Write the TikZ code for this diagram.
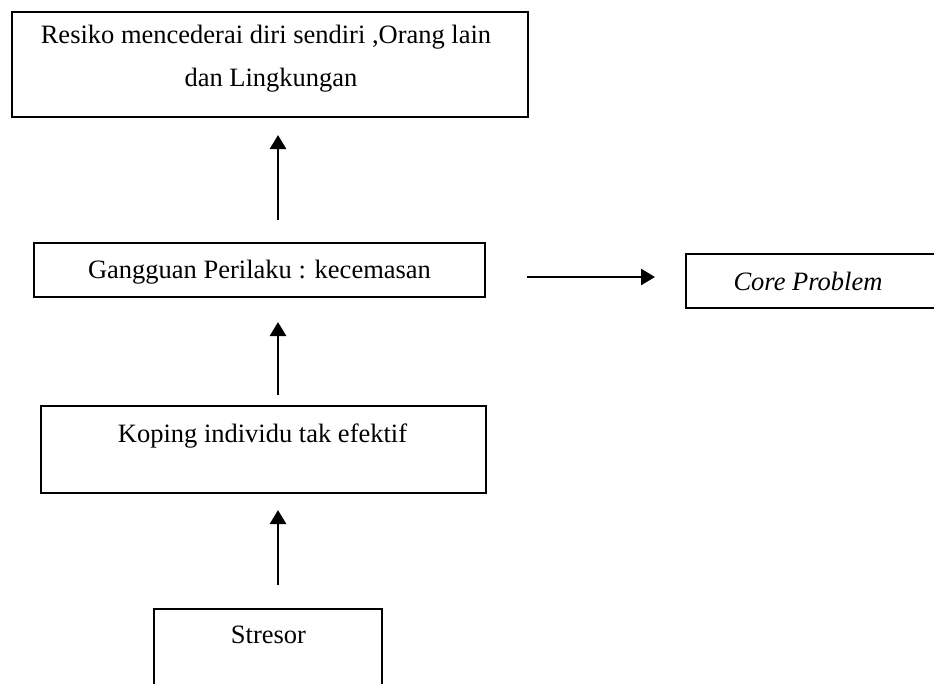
\documentclass[tikz,border=0pt]{standalone}
\usepackage{fontspec}
\setmainfont{Liberation Serif}
\usetikzlibrary{arrows.meta}
\begin{document}
\begin{tikzpicture}[x=1pt,y=-1pt,
  box/.style={draw, line width=1.5pt, rectangle, inner sep=0pt, outer sep=0pt},
  lbl/.style={anchor=base, inner sep=0pt, font=\fontsize{26.5}{43}\selectfont},
  arr/.style={line width=2.6pt, -{Triangle[length=14pt,width=16pt]}}]
\useasboundingbox (0,0) rectangle (934,683);
\clip (0,0) rectangle (934,683);
% boxes
\node[box, minimum width=516pt, minimum height=105pt] (b1) at (270,64.5) {};
\node[box, minimum width=451pt, minimum height=54pt] (b2) at (259.5,270) {};
\node[box, minimum width=260pt, minimum height=54pt] (b3) at (816,281) {};
\node[box, minimum width=445pt, minimum height=87pt] (b4) at (263.5,449.5) {};
\node[box, minimum width=228pt, minimum height=111pt] (b5) at (268,664.5) {};
% texts
\node[lbl] (t1a) at (266,43) {Resiko mencederai diri sendiri ,Orang lain};
\node[lbl] (t1b) at (271,86) {dan Lingkungan};
\node[lbl] (t2) at (259.5,278) {Gangguan Perilaku : kecemasan};
\node[lbl] (t3) at (808,290) {\itshape Core Problem};
\node[lbl] (t4) at (262.5,442) {Koping individu tak efektif};
\node[lbl] (t5) at (268.5,643) {Stresor};
% arrow ends
\coordinate (a1s) at (278,220); \coordinate (a1e) at (278,135);
\coordinate (a2s) at (278,395); \coordinate (a2e) at (278,322);
\coordinate (a3s) at (278,585); \coordinate (a3e) at (278,510);
\coordinate (h1s) at (527,277); \coordinate (h1e) at (655,277);
\draw[arr] (a1s) -- (a1e);
\draw[arr] (a2s) -- (a2e);
\draw[arr] (a3s) -- (a3e);
\draw[arr] (h1s) -- (h1e);
\end{tikzpicture}
\end{document}
